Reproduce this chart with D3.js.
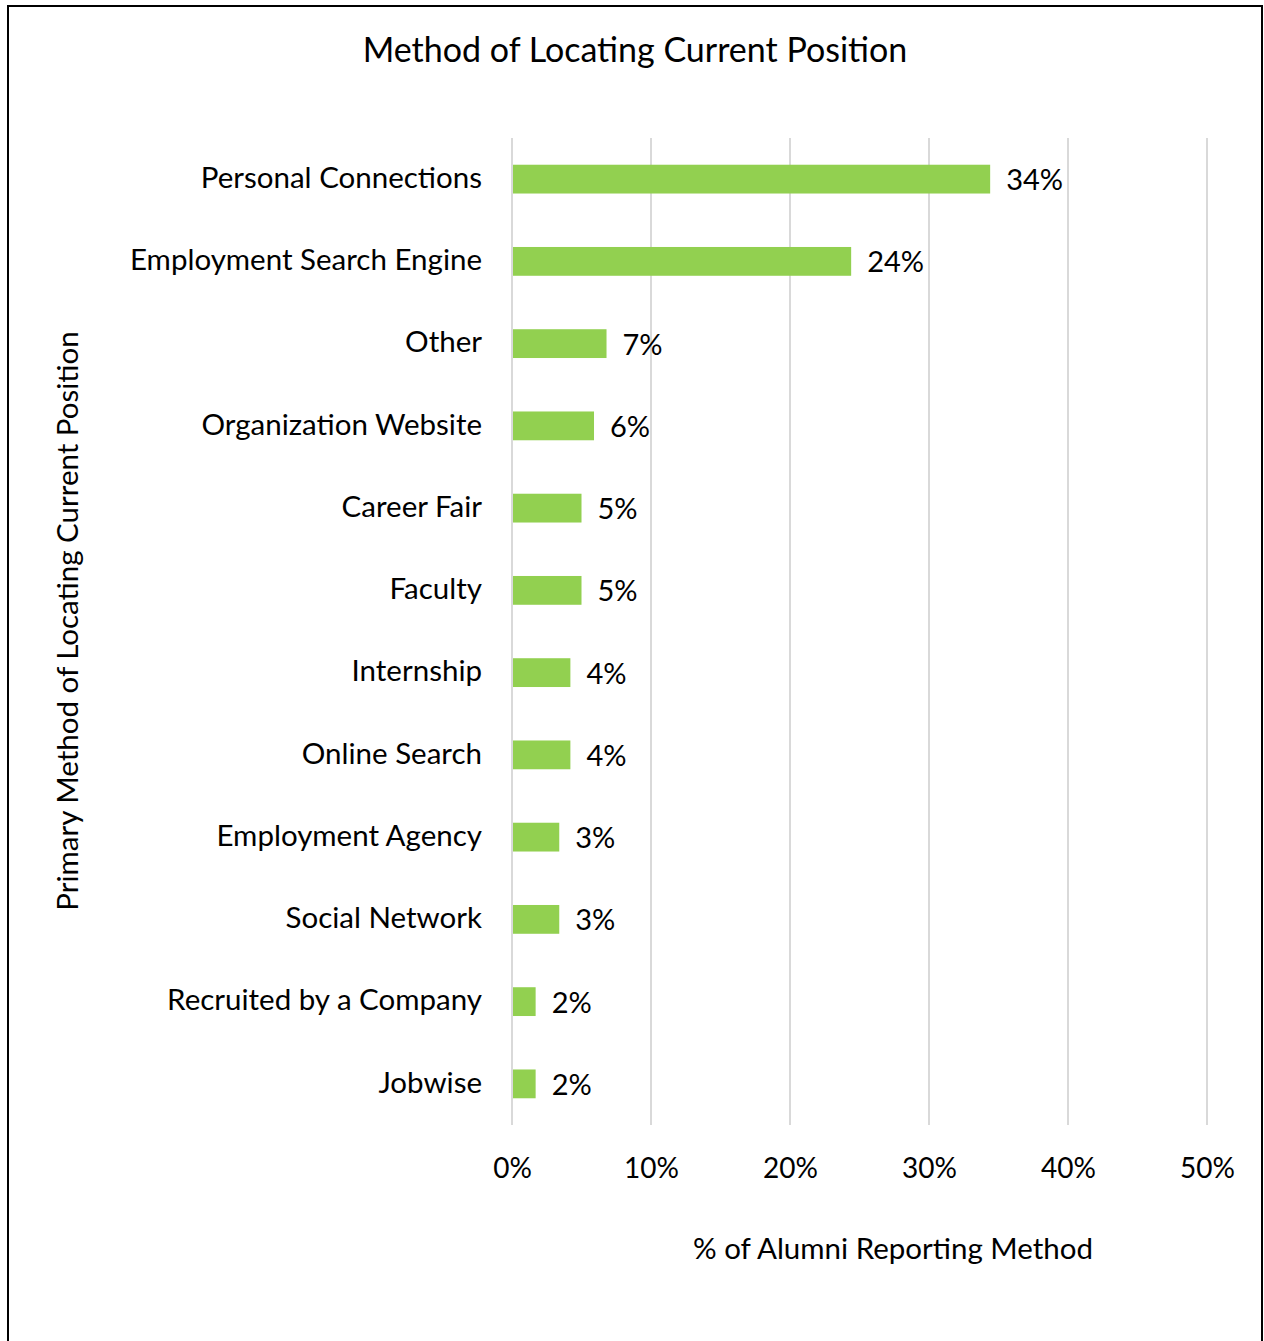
<!DOCTYPE html>
<html><head><meta charset="utf-8">
<script src="https://cdn.jsdelivr.net/npm/d3@7"></script>
<style>
html,body{margin:0;padding:0;background:#fff;}
text{font-family:Lato,"Open Sans",sans-serif;fill:#000;}
</style></head>
<body>
<svg id="chart" width="1264" height="1341"></svg>
<script>
const categories = ["Personal Connections","Employment Search Engine","Other","Organization Website","Career Fair","Faculty","Internship","Online Search","Employment Agency","Social Network","Recruited by a Company","Jobwise"];
const values = [34.4,24.4,6.8,5.9,5.0,5.0,4.2,4.2,3.4,3.4,1.7,1.7];
const xTicks = [0,10,20,30,40,50];
const titleText = "Method of Locating Current Position";
const xTitle = "% of Alumni Reporting Method";
const yTitle = "Primary Method of Locating Current Position";

const svg = d3.select("#chart");
// frame
svg.append("rect").attr("x",8).attr("y",6).attr("width",1254).attr("height",1345)
  .attr("fill","#fff").attr("stroke","#000").attr("stroke-width",2);

const x = d3.scaleLinear().domain([0,50]).range([512,1207]);
const y = d3.scaleBand().domain(categories).range([138,1125]).paddingInner(0.65).paddingOuter(0.325);

// gridlines
svg.append("g").selectAll("line").data(xTicks).join("line")
  .attr("x1",d=>x(d)).attr("x2",d=>x(d)).attr("y1",138).attr("y2",1125)
  .attr("stroke","#d9d9d9").attr("stroke-width",2);

// bars
svg.append("g").selectAll("rect").data(values).join("rect")
  .attr("x",x(0)+1).attr("y",(d,i)=>y(categories[i]))
  .attr("width",d=>x(d)-x(0)-1).attr("height",y.bandwidth())
  .attr("fill","#92d050");

// value labels
svg.append("g").selectAll("text").data(values).join("text")
  .attr("x",d=>x(d)+16).attr("y",(d,i)=>y(categories[i])+y.bandwidth()/2)
  .attr("dy","0.38em").attr("font-size",29)
  .text(d=>Math.round(d)+"%");

// y axis labels
const yAxis = d3.axisLeft(y).tickSize(0).tickPadding(30);
const yg = svg.append("g").attr("transform",`translate(${x(0)},0)`).call(yAxis);
yg.select(".domain").remove();
yg.selectAll("text").attr("font-size",29.5).attr("font-family","Lato").attr("fill","#000").attr("dy","0.3em");

// x axis labels
const xAxis = d3.axisBottom(x).tickValues(xTicks).tickSize(0).tickPadding(33).tickFormat(d=>d+"%");
const xg = svg.append("g").attr("transform","translate(0,1125)").call(xAxis);
xg.select(".domain").remove();
xg.selectAll("text").attr("font-size",28).attr("font-family","Lato").attr("fill","#000");

// titles
svg.append("text").attr("x",635).attr("y",50).attr("dy","0.35em").attr("text-anchor","middle")
  .attr("font-size",34).text(titleText);
svg.append("text").attr("x",893).attr("y",1249).attr("dy","0.35em").attr("text-anchor","middle")
  .attr("font-size",29.5).text(xTitle);
svg.append("text").attr("transform","translate(68,621) rotate(-90)").attr("dy","0.35em")
  .attr("text-anchor","middle").attr("font-size",29.5).text(yTitle);
</script>
</body></html>
